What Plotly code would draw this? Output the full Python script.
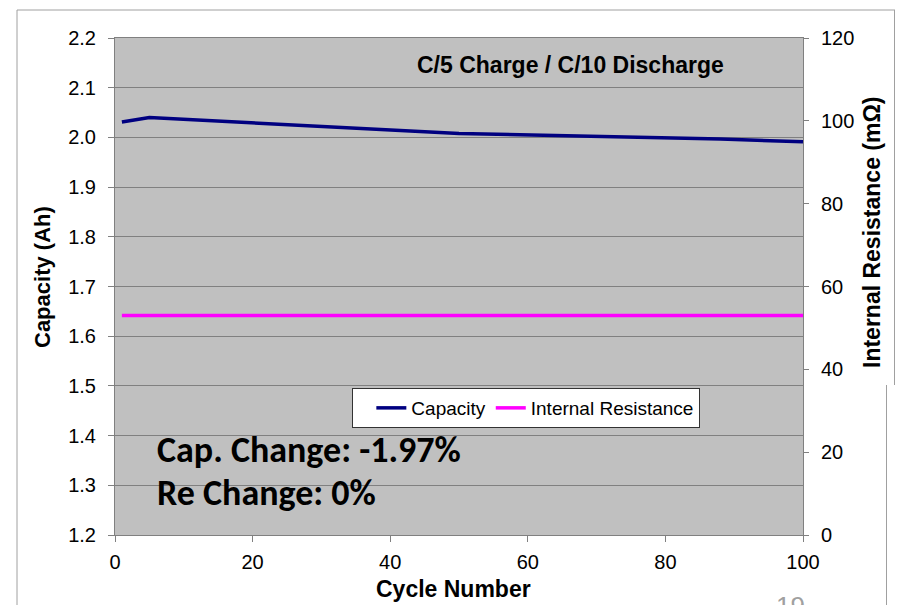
import plotly.graph_objects as go

# Cycle test: capacity (left axis) and internal resistance (right axis)
cycles = [1, 5, 50, 88, 100]
capacity_ah = [2.031, 2.040, 2.008, 1.997, 1.991]
resistance_mohm = [53, 53, 53, 53, 53]

title_text = "C/5 Charge / C/10 Discharge"
cap_change_text = "Cap. Change: -1.97%"
re_change_text = "Re Change: 0%"

W, H = 897, 605
ML, MR, MT, MB = 115, 94, 38, 70
PW, PH = W - ML - MR, H - MT - MB


def px(x):
    return (x - ML) / PW


def py(y):
    return (H - MB - y) / PH


fig = go.Figure()
fig.add_trace(go.Scatter(
    x=cycles, y=capacity_ah, name="Capacity", mode="lines",
    line=dict(color="#000080", width=3.5), yaxis="y",
))
fig.add_trace(go.Scatter(
    x=cycles, y=resistance_mohm, name="Internal Resistance", mode="lines",
    line=dict(color="#FF00FF", width=3.5), yaxis="y2",
))

ARIAL = "Arial, Liberation Sans"
tick_font = dict(family=ARIAL, size=20, color="#000")

fig.update_layout(
    width=W, height=H,
    margin=dict(l=ML, r=MR, t=MT, b=MB),
    paper_bgcolor="white",
    plot_bgcolor="#C0C0C0",
    showlegend=True,
    legend=dict(
        orientation="h", x=px(352), y=py(388), xanchor="left", yanchor="top",
        bgcolor="white", bordercolor="#333", borderwidth=1,
        font=dict(family=ARIAL, size=19, color="#000"),
        title=dict(text="\u00a0\u00a0\u00a0", side="left", font=dict(family=ARIAL, size=10)),
        itemwidth=30, tracegroupgap=0,
    ),
    xaxis=dict(
        range=[0, 100], dtick=20, tick0=0, showgrid=False, zeroline=False,
        showline=True, linecolor="#808080", linewidth=1, mirror=True,
        ticks="outside", ticklen=6, tickcolor="#808080",
        tickfont=tick_font, ticklabelstandoff=3,
    ),
    yaxis=dict(
        range=[1.2, 2.2], dtick=0.1, tick0=1.2, tickformat=".1f",
        showgrid=True, gridcolor="#808080", gridwidth=1, zeroline=False,
        showline=True, linecolor="#808080", linewidth=1,
        ticks="outside", ticklen=6, tickcolor="#808080",
        tickfont=tick_font, ticklabelstandoff=8,
    ),
    yaxis2=dict(
        range=[0, 120], dtick=20, tick0=0, overlaying="y", side="right",
        showgrid=False, zeroline=False,
        showline=True, linecolor="#808080", linewidth=1,
        ticks="outside", ticklen=5, tickcolor="#808080",
        tickfont=tick_font, ticklabelstandoff=8,
    ),
    yaxis3=dict(
        range=[0, 120], dtick=20, tick0=0, overlaying="y", side="right",
        anchor="x", showgrid=False, zeroline=False, showline=False,
        ticks="inside", ticklen=7, tickcolor="#808080", showticklabels=False,
    ),
)

annotations = [
    dict(text=f"<b>{title_text}</b>", x=px(570), y=py(65), xanchor="center", yanchor="middle",
         font=dict(family=ARIAL, size=23, color="#000")),
    dict(text="<b>Capacity (Ah)</b>", x=px(42), y=py(277), textangle=-90,
         xanchor="center", yanchor="middle", font=dict(family=ARIAL, size=22, color="#000")),
    dict(text="<b>Internal Resistance (mΩ)</b>", x=px(872), y=py(232), textangle=-90,
         xanchor="center", yanchor="middle", font=dict(family=ARIAL, size=23, color="#000")),
    dict(text="<b>Cycle Number</b>", x=px(453), y=py(589), xanchor="center", yanchor="middle",
         font=dict(family=ARIAL, size=23, color="#000")),
    dict(text=f"<b>{cap_change_text}</b>", x=px(155), y=py(450), xanchor="left", yanchor="middle",
         font=dict(family="Carlito, Lato, Open Sans", size=36, color="#000")),
    dict(text=f"<b>{re_change_text}</b>", x=px(155), y=py(493), xanchor="left", yanchor="middle",
         font=dict(family="Carlito, Lato, Open Sans", size=36, color="#000")),
    dict(text="19", x=px(790), y=py(589), xanchor="center", yanchor="top",
         font=dict(family=ARIAL, size=26, color="#A0A0A0")),
]
for a in annotations:
    a.update(xref="paper", yref="paper", showarrow=False)
fig.update_layout(annotations=annotations)

# Slide frame around the chart
frame = dict(color="#A0A0A0", width=1)
fig.add_shape(type="line", xref="paper", yref="paper", x0=px(17), x1=px(895), y0=py(10), y1=py(10), line=frame)
fig.add_shape(type="line", xref="paper", yref="paper", x0=px(17), x1=px(17), y0=py(10), y1=py(620), line=frame)
fig.add_shape(type="line", xref="paper", yref="paper", x0=px(894.5), x1=px(894.5), y0=py(10), y1=py(385), line=frame)
fig.add_shape(type="line", xref="paper", yref="paper", x0=px(886.5), x1=px(886.5), y0=py(385), y1=py(620), line=frame)

fig.write_html("out.html")
